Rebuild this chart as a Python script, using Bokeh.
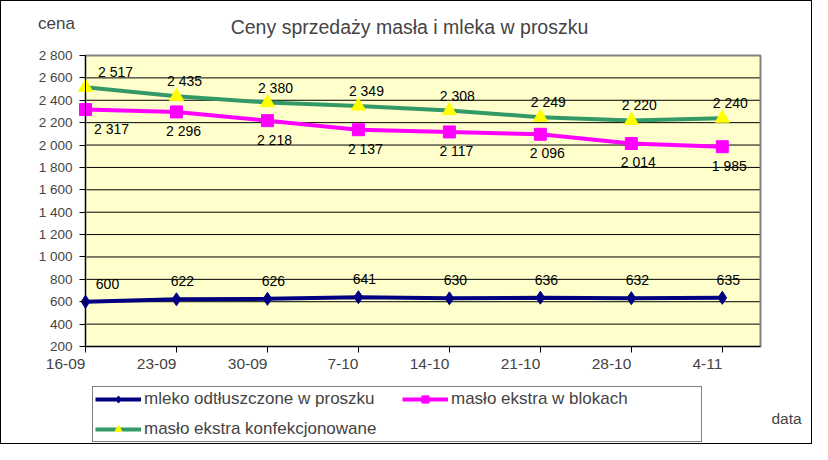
from bokeh.plotting import figure
from bokeh.models import (Range1d, FixedTicker, Legend, LegendItem, Label, ColumnDataSource)
from bokeh.core.properties import value
from bokeh.embed import file_html
from bokeh.resources import INLINE

# ---- data ----
dates = ["16-09", "23-09", "30-09", "7-10", "14-10", "21-10", "28-10", "4-11"]
mleko = [600, 622, 626, 641, 630, 636, 632, 635]
maslo_bloki = [2317, 2296, 2218, 2137, 2117, 2096, 2014, 1985]
maslo_konf = [2517, 2435, 2380, 2349, 2308, 2249, 2220, 2240]
y_ticks = [200, 400, 600, 800, 1000, 1200, 1400, 1600, 1800, 2000, 2200, 2400, 2600, 2800]

title_text = "Ceny sprzedaży masła i mleka w proszku"
series_names = ["mleko odtłuszczone w proszku", "masło ekstra w blokach", "masło ekstra konfekcjonowane"]

FONT = "Liberation Sans"

def fmt(v):
    return f"{v:,}".replace(",", " ")

xs = list(range(len(dates)))

# ---- layout geometry (pixels inside the canvas) ----
W, H = 812, 444
PX_L, PX_R, PX_T, PX_B = 84, 759, 54, 345
X0, X1 = 0, 7.42
Y0, Y1 = 200, 2800
sx = (PX_R - PX_L) / (X1 - X0)
sy = (PX_B - PX_T) / (Y1 - Y0)
x_range = Range1d(X0 - PX_L / sx, X1 + (W - PX_R) / sx)
y_range = Range1d(Y0 - (H - PX_B) / sy, Y1 + PX_T / sy)

p = figure(width=W, height=H, output_backend="svg", toolbar_location=None,
           x_range=x_range, y_range=y_range, min_border=0)
p.title.visible = False
p.styles = {"border": "1px solid black", "box-sizing": "border-box"}
p.background_fill_color = "white"
p.border_fill_color = "white"
p.outline_line_color = None
p.xgrid.visible = False
p.ygrid.visible = False

# plot area
p.quad(left=[X0], right=[X1], bottom=[Y0], top=[Y1], fill_color="#FFFFCC", line_color=None)
grid_src = ColumnDataSource(dict(y=y_ticks[1:-1]))
p.segment(x0=X0, x1=X1, y0="y", y1="y", source=grid_src, line_color="black", line_width=1)
p.quad(left=[X0], right=[X1], bottom=[Y0], top=[Y1], fill_color=None, line_color="#808080", line_width=2)

# axes
p.xaxis.fixed_location = Y0
p.xaxis.bounds = (X0, X1)
p.xaxis.ticker = FixedTicker(ticks=xs)
p.xaxis.major_label_overrides = {i: d for i, d in enumerate(dates)}
p.xaxis.major_label_orientation = 0.0001
p.xaxis.major_label_text_font = FONT
p.xaxis.major_label_text_font_size = "15.5px"
p.xaxis.major_label_standoff = 11
p.xaxis.major_tick_out = 6
p.xaxis.major_tick_in = 0
p.xaxis.minor_tick_line_color = None
p.xaxis.axis_line_color = "black"

p.yaxis.fixed_location = X0
p.yaxis.bounds = (Y0, Y1)
p.yaxis.ticker = FixedTicker(ticks=y_ticks)
p.yaxis.major_label_overrides = {v: fmt(v) for v in y_ticks}
p.yaxis.major_label_text_font = FONT
p.yaxis.major_label_text_font_size = "13.5px"
p.yaxis.major_label_standoff = 7
p.yaxis.major_tick_out = 6
p.yaxis.major_tick_in = 0
p.yaxis.minor_tick_line_color = None
p.yaxis.axis_line_color = "black"

# data labels: labels at the left edge are pushed right, as the spreadsheet did
def offsets(base, edge):
    return [edge if x == X0 else base for x in xs]

src = ColumnDataSource(dict(x=xs, mleko=mleko, bloki=maslo_bloki, konf=maslo_konf,
                            mleko_t=[fmt(v) for v in mleko],
                            bloki_t=[fmt(v) for v in maslo_bloki],
                            konf_t=[fmt(v) for v in maslo_konf],
                            mleko_dx=offsets(6, 22), bloki_dx=offsets(7, 26), konf_dx=offsets(8, 30)))

l1 = p.line("x", "mleko", source=src, line_color="#000080", line_width=4)
s1 = p.scatter("x", "mleko", source=src, marker="diamond", size=13, fill_color="#000080", line_color="#000080")
l2 = p.line("x", "bloki", source=src, line_color="#FF00FF", line_width=4)
s2 = p.scatter("x", "bloki", source=src, marker="square", size=12, fill_color="#FF00FF", line_color="#FF00FF")
l3 = p.line("x", "konf", source=src, line_color="#339966", line_width=4)
s3 = p.scatter("x", "konf", source=src, marker="triangle", size=14, fill_color="#FFFF00", line_color="#FFFF00")

common = dict(source=src, text_font=value(FONT), text_font_size="14px", text_color="black",
              text_align="center", text_baseline="middle")
p.text("x", "mleko", text="mleko_t", x_offset="mleko_dx", y_offset=-18, **common)
p.text("x", "bloki", text="bloki_t", x_offset="bloki_dx", y_offset=19, **common)
p.text("x", "konf", text="konf_t", x_offset="konf_dx", y_offset=-15, **common)

legend = Legend(items=[LegendItem(label=series_names[0], renderers=[l1, s1]),
                       LegendItem(label=series_names[2], renderers=[l3, s3]),
                       LegendItem(label=series_names[1], renderers=[l2, s2])],
                ncols=2, location=(91, H - 441))
legend.border_line_color = "black"
legend.border_line_width = 1
legend.background_fill_color = "white"
legend.background_fill_alpha = 1
legend.label_text_font = FONT
legend.label_text_font_size = "17px"
legend.glyph_width = 46
legend.glyph_height = 18
legend.label_height = 18
legend.label_width = 248
legend.label_standoff = 3
legend.padding = 2
legend.spacing = 10
legend.margin = 0
p.add_layout(legend, "center")

p.add_layout(Label(x=408, y=H - 25, x_units="screen", y_units="screen", text=title_text,
                   text_font=FONT, text_font_size="19.5px", text_align="center", text_baseline="middle"))
p.add_layout(Label(x=55, y=H - 22, x_units="screen", y_units="screen", text="cena",
                   text_font=FONT, text_font_size="17px", text_align="center", text_baseline="middle"))
p.add_layout(Label(x=785, y=H - 417, x_units="screen", y_units="screen", text="data",
                   text_font=FONT, text_font_size="15.5px", text_align="center", text_baseline="middle"))

open("out.html", "w").write(file_html(p, INLINE))
